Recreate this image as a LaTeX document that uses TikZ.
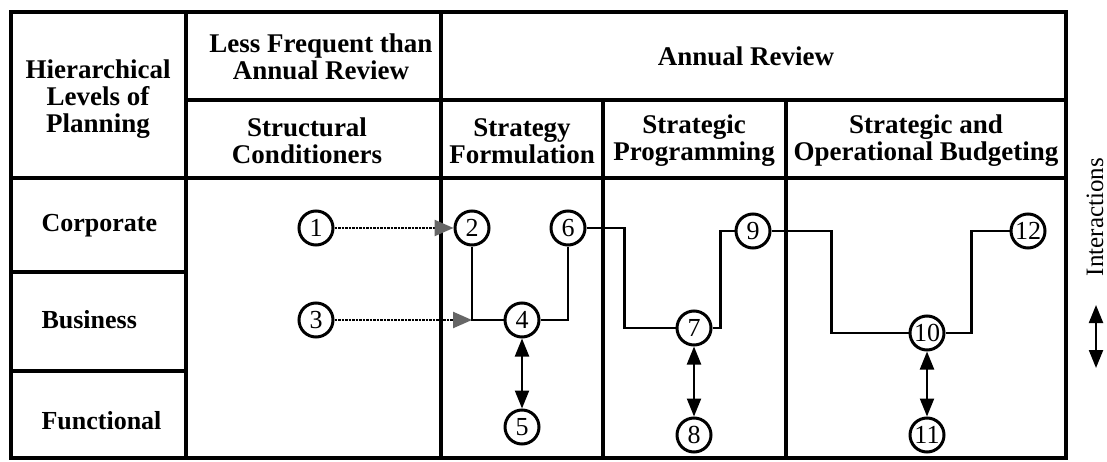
\documentclass[tikz,border=0pt]{standalone}
\usepackage{fontspec}
\setmainfont{Liberation Serif}
\usetikzlibrary{arrows.meta}

\begin{document}
\begin{tikzpicture}[x=1pt,y=-1pt,>={Triangle[length=18pt,width=14pt]},
  main node/.style={circle,draw,line width=3pt,inner sep=0pt,minimum size=34pt,font=\fontsize{26}{26}\selectfont},
  head/.style={align=center,font=\fontsize{27}{27}\selectfont\bfseries},
  rowname/.style={anchor=west,font=\fontsize{26}{26}\selectfont\bfseries},
  frame line/.style={line width=3.4pt},
  link/.style={line width=2.2pt},
  feed/.style={line width=2.4pt,dash pattern=on 2.5pt off 1pt,-{Triangle[length=19pt,width=16pt,color=black!60]}}]
\useasboundingbox (0,0) rectangle (1107,462);

% table
\draw[frame line] (11,12) rectangle (1066,458);
\draw[frame line] (186,12) -- (186,458);
\draw[frame line] (441,12) -- (441,458);
\draw[frame line] (603,100) -- (603,458);
\draw[frame line] (786,100) -- (786,458);
\draw[frame line] (186,100) -- (1066,100);
\draw[frame line] (11,178) -- (1066,178);
\draw[frame line] (11,272) -- (186,272);
\draw[frame line] (11,371) -- (186,371);

% headings
\node[head] (hier) at (98,99) {Hierarchical\\Levels of\\Planning};
\node[head] (less) at (321,57) {Less Frequent than\\Annual Review};
\node[head] (annual) at (746,56) {Annual Review};
\node[head] (struct) at (307,141) {Structural\\Conditioners};
\node[head] (form) at (522,141) {Strategy\\Formulation};
\node[head] (prog) at (694,141) {Strategic\\Programming};
\node[head] (budg) at (926,141) {Strategic and\\Operational Budgeting};

\node[rowname] (corp) at (38,226) {Corporate};
\node[rowname] (bus) at (38,320) {Business};
\node[rowname] (func) at (38,421) {Functional};

% steps
\node[main node] (1) at (316,228) {1};
\node[main node] (2) at (472,228) {2};
\node[main node] (3) at (316,320) {3};
\node[main node] (4) at (522,320) {4};
\node[main node] (5) at (522,427) {5};
\node[main node] (6) at (568,228) {6};
\node[main node] (7) at (694,328) {7};
\node[main node] (8) at (694,435) {8};
\node[main node] (9) at (753,231) {9};
\node[main node] (10) at (927,333) {10};
\node[main node] (11) at (927,435) {11};
\node[main node] (12) at (1028,231) {12};

\coordinate (j) at (2.south |- 4.west);

\draw[feed] (1) -- (2);
\draw[feed] (3) -- (j);
\draw[link] (2) |- (4);
\draw[link] (4) -| (6);
\draw[link] (6.east) -| ([xshift=-51pt]7.west) -- (7.west);
\draw[link] (7.east) -| ([xshift=-14pt]9.west) -- (9.west);
\draw[link] (9.east) -| ([xshift=-77pt]10.west) -- (10.west);
\draw[link] (10.east) -| ([xshift=-38pt]12.west) -- (12.west);

\path[link,<->]
  (4) edge (5)
  (7) edge (8)
  (10) edge (11);

% legend
\node[rotate=90,inner sep=0pt,font=\fontsize{25}{25}\selectfont] (inter) at (1095,217) {Interactions};
\coordinate (ia) at (1096,305);
\coordinate (ib) at (1096,368);
\draw[link,<->] (ia) -- (ib);
\end{tikzpicture}
\end{document}
